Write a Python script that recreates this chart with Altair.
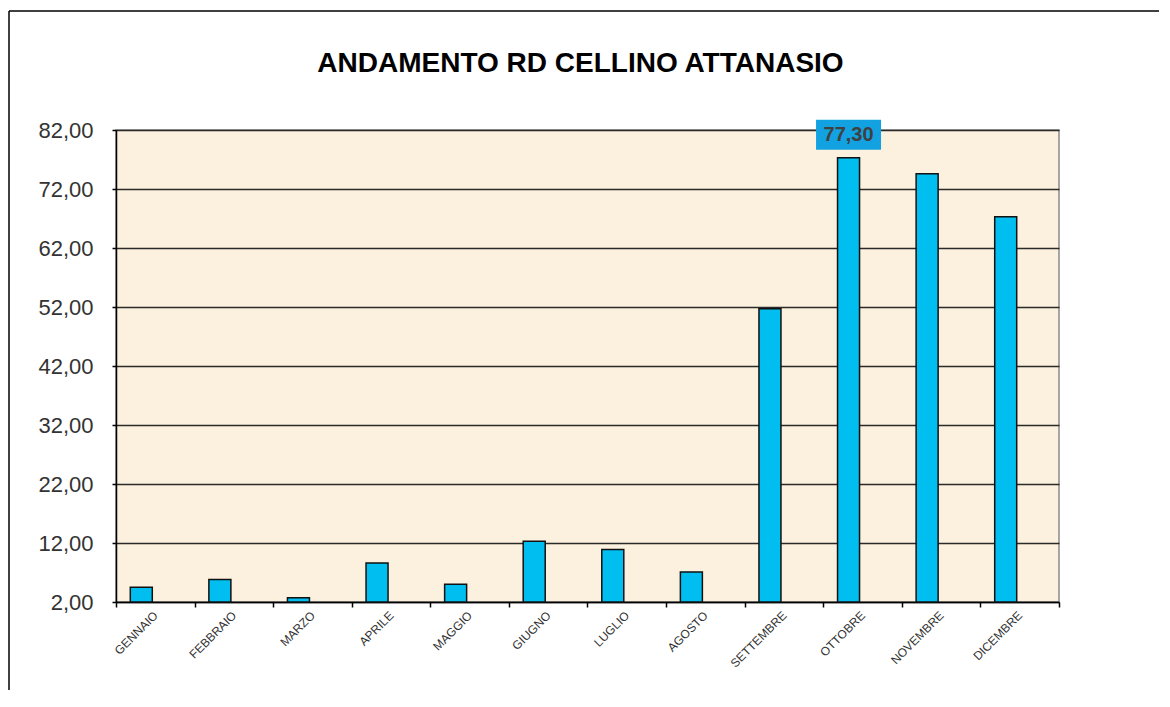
import altair as alt
import pandas as pd

months = ["GENNAIO", "FEBBRAIO", "MARZO", "APRILE", "MAGGIO", "GIUGNO",
          "LUGLIO", "AGOSTO", "SETTEMBRE", "OTTOBRE", "NOVEMBRE", "DICEMBRE"]
values = [4.5, 5.8, 2.7, 8.6, 5.0, 12.3, 10.9, 7.1, 51.7, 77.3, 74.6, 67.3]
labelled = ["OTTOBRE"]
y_ticks = [2, 12, 22, 32, 42, 52, 62, 72, 82]
title_text = "ANDAMENTO RD CELLINO ATTANASIO"

df = pd.DataFrame({"mese": months, "valore": values,
                   "show": [m in labelled for m in months]})

W, H = 943, 472
PAD = {"left": 108, "top": 122, "right": 100, "bottom": 88}
FONT = "Liberation Sans"

x_enc = alt.X("mese:N", sort=months, title=None,
              scale=alt.Scale(paddingInner=0, paddingOuter=0),
              axis=alt.Axis(labelAngle=-45, labelAlign="right", labelBaseline="middle",
                            labelFont=FONT, labelFontSize=12, labelColor="#333333",
                            labelPadding=6, tickBand="extent", tickSize=5,
                            tickColor="#000000", tickWidth=1.5,
                            domainColor="#000000", domainWidth=1.5, grid=False))
y_scale = alt.Scale(domain=[2, 82], nice=False, zero=False)
y_enc = alt.Y("valore:Q", scale=y_scale, title=None,
              axis=alt.Axis(values=y_ticks,
                            labelExpr="replace(format(datum.value, '.2f'), '.', ',')",
                            labelFont=FONT, labelFontSize=22, labelColor="#333333",
                            labelPadding=19, tickSize=4, tickColor="#000000", tickWidth=1.5,
                            domainColor="#000000", domainWidth=1.5,
                            grid=True, gridColor="#2a2a2a", gridWidth=1.5))

bars = alt.Chart(df).mark_bar(size=22, xOffset=-14, color="#00BFF0",
                              stroke="#111111", strokeWidth=1.5).encode(
    x=x_enc, y=y_enc, y2=alt.datum(2),
)

lab = alt.Chart(df).transform_filter("datum.show").transform_calculate(
    lbl="replace(format(datum.valore, '.2f'), '.', ',')")
box = lab.mark_point(shape="M-1,-0.4615L1,-0.4615L1,0.4615L-1,0.4615Z", size=65 * 65,
                     filled=True, color="#12A2E2", opacity=1, strokeWidth=0,
                     xOffset=-14, yOffset=-23).encode(
    x=alt.X("mese:N", sort=months),
    y=alt.Y("valore:Q", scale=y_scale),
)
txt = lab.mark_text(font=FONT, fontSize=20, fontWeight="bold", color="#404040",
                    baseline="middle", align="center", xOffset=-14, yOffset=-23).encode(
    x=alt.X("mese:N", sort=months),
    y=alt.Y("valore:Q", scale=y_scale),
    text="lbl:N",
)

one = alt.Data(values=[{"t": title_text}])
title_mark = alt.Chart(one).mark_text(font=FONT, fontSize=28, fontWeight="bold",
                                      color="#000000", align="center",
                                      baseline="alphabetic").encode(
    x=alt.value(W / 2 - 7), y=alt.value(-58), text="t:N")
top_line = alt.Chart(one).mark_rule(color="#000000", strokeWidth=1.5).encode(
    x=alt.value(-107), x2=alt.value(W + 100), y=alt.value(-119))
left_line = alt.Chart(one).mark_rule(color="#000000", strokeWidth=1.5).encode(
    x=alt.value(-107), y=alt.value(-119), y2=alt.value(H + 100))

chart = alt.layer(bars, box, txt, title_mark, top_line, left_line).properties(
    width=W, height=H,
    autosize=alt.AutoSizeParams(type="none"),
    padding=PAD,
    background="#FFFFFF",
).configure_view(fill="#FCF1DE", stroke="#8A8A8A", strokeWidth=1.5)

chart.save("out.html", embed_options={"renderer": "svg", "actions": False})
